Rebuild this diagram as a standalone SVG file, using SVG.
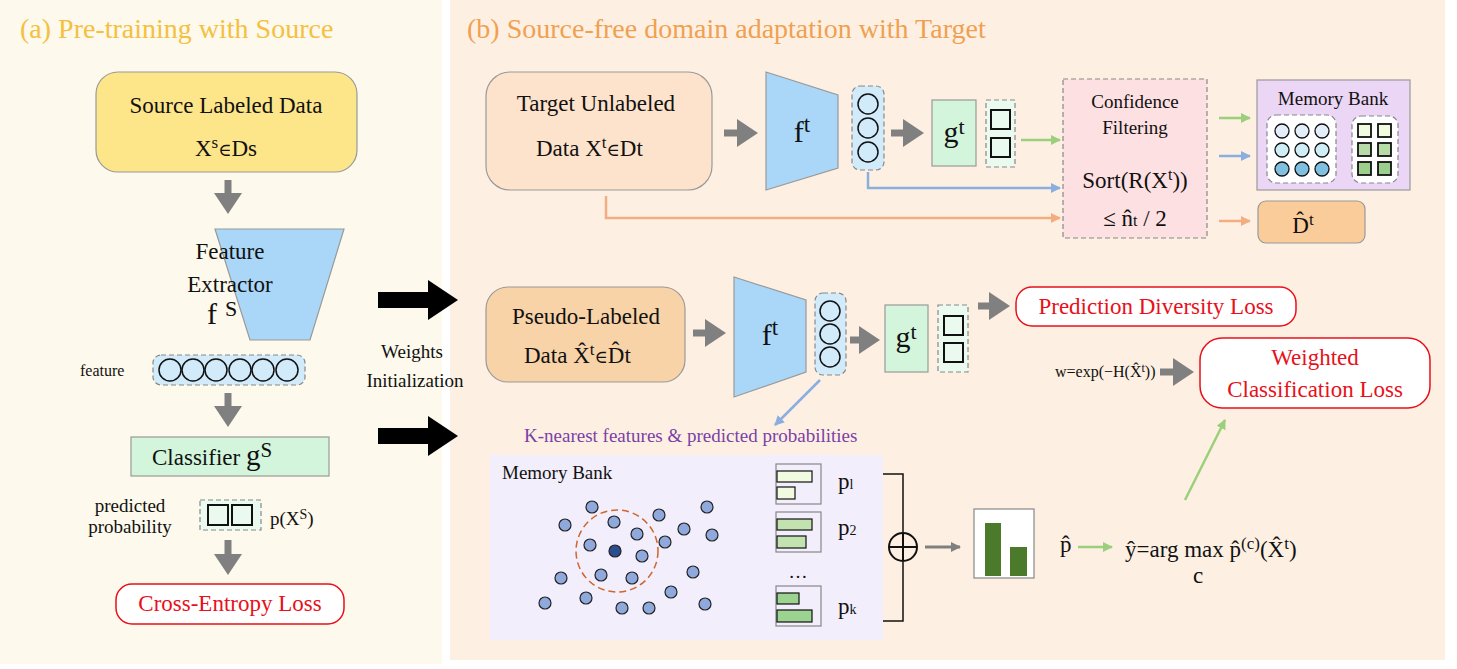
<svg xmlns="http://www.w3.org/2000/svg" width="1457" height="669" viewBox="0 0 1457 669" font-family="'Liberation Serif', 'DejaVu Serif', serif">
<style>
text{font-family:"Liberation Serif","DejaVu Serif",serif;fill:#111}
.t{font-size:23px}.s{font-size:19px}.xs{font-size:16px}
.red{fill:#e8101a}
.box{stroke:#999;stroke-width:1.2}
.dash{stroke:#888;stroke-width:1.2;stroke-dasharray:5 3}
.bead{fill:#d2ebfb;stroke:#111;stroke-width:1.5}
.sq{fill:#eafaee;stroke:#111;stroke-width:2}
.ga{stroke:#808080;stroke-width:7;fill:none}
.mb{fill:#8fa9dc;stroke:#222;stroke-width:1.2}
</style>
<defs>
<marker id="gh" markerWidth="3" markerHeight="4" refX="1" refY="2" orient="auto" markerUnits="strokeWidth"><path d="M0,0L3,2L0,4Z" fill="#808080"/></marker>
<marker id="grn" markerWidth="10" markerHeight="10" refX="9" refY="5" orient="auto" markerUnits="userSpaceOnUse"><path d="M0,0L10,5L0,10Z" fill="#9ccf7c"/></marker>
<marker id="blu" markerWidth="10" markerHeight="10" refX="9" refY="5" orient="auto" markerUnits="userSpaceOnUse"><path d="M0,0L10,5L0,10Z" fill="#8aaee0"/></marker>
<marker id="org" markerWidth="10" markerHeight="10" refX="9" refY="5" orient="auto" markerUnits="userSpaceOnUse"><path d="M0,0L10,5L0,10Z" fill="#f4ad80"/></marker>
<marker id="gry" markerWidth="10" markerHeight="10" refX="9" refY="5" orient="auto" markerUnits="userSpaceOnUse"><path d="M0,0L10,5L0,10Z" fill="#808080"/></marker>
</defs>
<rect width="1457" height="669" fill="#fff"/>
<rect x="0" y="0" width="442" height="664" fill="#fdf9ec"/>
<rect x="450" y="0" width="995" height="660" fill="#fdf0e2"/>
<text x="20" y="38" style="font-size:28px;fill:#f5c040">(a) Pre-training with Source</text>
<text x="467" y="38" style="font-size:28px;fill:#f0a050">(b) Source-free domain adaptation with Target</text>

<g id="connectors">
<line x1="228" y1="180" x2="228" y2="200" class="ga" marker-end="url(#gh)"/>
<line x1="228" y1="393" x2="228" y2="413" class="ga" marker-end="url(#gh)"/>
<line x1="228" y1="540" x2="228" y2="561" class="ga" marker-end="url(#gh)"/>
<path d="M378,292h50v-12l30,20l-30,20v-12h-50z" fill="#000"/>
<path d="M378,428h50v-12l30,20l-30,20v-12h-50z" fill="#000"/>
<line x1="724" y1="133" x2="744" y2="133" class="ga" marker-end="url(#gh)"/>
<line x1="891" y1="133" x2="910" y2="133" class="ga" marker-end="url(#gh)"/>
<line x1="1021" y1="140" x2="1060" y2="140" stroke="#9ccf7c" stroke-width="2.5" marker-end="url(#grn)"/>
<path d="M868,172V188H1060" fill="none" stroke="#8aaee0" stroke-width="2.5" marker-end="url(#blu)"/>
<path d="M606,196V218H1060" fill="none" stroke="#f4ad80" stroke-width="2.5" marker-end="url(#org)"/>
<line x1="1219" y1="118" x2="1250" y2="118" stroke="#9ccf7c" stroke-width="2.5" marker-end="url(#grn)"/>
<line x1="1219" y1="156" x2="1250" y2="156" stroke="#8aaee0" stroke-width="2.5" marker-end="url(#blu)"/>
<line x1="1219" y1="221" x2="1250" y2="221" stroke="#f4ad80" stroke-width="2.5" marker-end="url(#org)"/>
<line x1="693" y1="333" x2="712" y2="333" class="ga" marker-end="url(#gh)"/>
<line x1="850" y1="340" x2="866" y2="340" class="ga" marker-end="url(#gh)"/>
<line x1="978" y1="306" x2="996" y2="306" class="ga" marker-end="url(#gh)"/>
<line x1="1160" y1="372" x2="1180" y2="372" class="ga" marker-end="url(#gh)"/>
<line x1="820" y1="380" x2="775" y2="425" stroke="#8aaee0" stroke-width="2.5" marker-end="url(#blu)"/>
<line x1="726" y1="548" x2="760" y2="548" stroke="#808080" stroke-width="3" marker-end="url(#gry)"/>
<path d="M870,474H903V532M903,562V621H870" fill="none" stroke="#111" stroke-width="1.5"/>
<line x1="925" y1="547" x2="960" y2="547" stroke="#808080" stroke-width="3" marker-end="url(#gry)"/>
<line x1="1078" y1="547" x2="1112" y2="547" stroke="#9ccf7c" stroke-width="2.5" marker-end="url(#grn)"/>
<line x1="1185" y1="500" x2="1225" y2="420" stroke="#9ccf7c" stroke-width="2.5" marker-end="url(#grn)"/>
</g>

<g id="source-data"><rect x="96" y="72" width="261" height="100" rx="22" fill="#fde58a" class="box"/>
<text x="226" y="113" class="t" text-anchor="middle">Source Labeled Data</text>
<text x="226" y="156" class="t" text-anchor="middle">X<tspan dy="-8" font-size="17">s</tspan><tspan dy="8" font-size="18">∈</tspan>Ds</text></g>
<g id="feature-extractor"><path d="M215,229H344L310,340H250Z" fill="#aad7f7" class="box"/>
<text x="230" y="259" class="t" text-anchor="middle">Feature</text>
<text x="230" y="292" class="t" text-anchor="middle">Extractor</text>
<text x="222" y="324" style="font-size:30px" text-anchor="middle">f<tspan dx="8" dy="-8" font-size="22">S</tspan></text></g>
<g id="feature"><text x="80" y="376" class="xs">feature</text>
<rect x="153" y="355" width="152" height="30" rx="8" fill="#d2ebfb" class="dash"/>
<g class="bead"><circle cx="170" cy="370" r="11"/><circle cx="193" cy="370" r="11"/><circle cx="216" cy="370" r="11"/><circle cx="240" cy="370" r="11"/><circle cx="263" cy="370" r="11"/><circle cx="287" cy="370" r="11"/></g></g>
<g id="classifier"><rect x="131" y="437" width="198" height="39" fill="#d3f5dc" class="box"/>
<text x="152" y="465" class="t">Classifier <tspan font-size="29">g</tspan><tspan dy="-8" font-size="21">S</tspan></text></g>
<g id="pred-prob"><text x="130" y="512" class="s" text-anchor="middle">predicted</text><text x="130" y="533" class="s" text-anchor="middle">probability</text>
<rect x="200" y="500" width="61" height="30" fill="#eafaee" class="dash"/>
<rect x="208" y="505" width="20" height="20" class="sq"/><rect x="232" y="505" width="20" height="20" class="sq"/>
<text x="270" y="525" class="s">p(X<tspan dy="-6" font-size="14">S</tspan><tspan dy="6">)</tspan></text></g>
<g id="ce-loss"><rect x="116" y="584" width="228" height="40" rx="16" fill="#fff" stroke="#e8101a" stroke-width="1.5"/>
<text x="230" y="611" class="t red" text-anchor="middle">Cross-Entropy Loss</text></g>
<g id="weights-init"><text x="412" y="358" class="s" text-anchor="middle">Weights</text><text x="415" y="387" class="s" text-anchor="middle">Initialization</text></g>

<g id="target-data"><rect x="486" y="72" width="226" height="118" rx="24" fill="#fde3cc" class="box"/>
<text x="596" y="111" class="t" text-anchor="middle">Target Unlabeled</text>
<text x="536" y="156" class="t">Data  X<tspan dy="-8" font-size="17">t</tspan><tspan dy="8" font-size="18">∈</tspan>Dt</text></g>
<g id="ft1"><path d="M766,72L838,95V168L766,190Z" fill="#aad7f7" class="box"/>
<text x="802" y="142" style="font-size:30px" text-anchor="middle">f<tspan dy="-10" font-size="23">t</tspan></text></g>
<g id="feat1"><rect x="852" y="86" width="32" height="84" rx="8" fill="#d2ebfb" class="dash"/>
<g class="bead"><circle cx="868" cy="104" r="10"/><circle cx="868" cy="128" r="10"/><circle cx="868" cy="152" r="10"/></g></g>
<g id="gt1"><rect x="932" y="100" width="44" height="66" fill="#d3f5dc" class="box"/><text x="954" y="142" style="font-size:30px" text-anchor="middle">g<tspan dy="-8" font-size="22">t</tspan></text></g>
<g id="out1"><rect x="986" y="100" width="29" height="67" fill="#eafaee" class="dash"/><rect x="991" y="110" width="19" height="19" class="sq"/><rect x="991" y="138" width="19" height="19" class="sq"/></g>
<g id="confidence"><rect x="1063" y="79" width="144" height="159" fill="#fde0e2" class="dash"/>
<text x="1135" y="108" class="s" text-anchor="middle">Confidence</text><text x="1135" y="134" class="s" text-anchor="middle">Filtering</text>
<text x="1135" y="188" class="t" text-anchor="middle">Sort(R(X<tspan dy="-8" font-size="16">t</tspan><tspan dy="8">))</tspan></text>
<text x="1135" y="226" class="t" text-anchor="middle">≤ n̂<tspan font-size="16">t</tspan> / 2</text></g>
<g id="memory-bank-top"><rect x="1257" y="80" width="153" height="110" fill="#ecd6f5" class="box"/>
<text x="1333" y="105" class="s" text-anchor="middle">Memory Bank</text>
<rect x="1267" y="115" width="69" height="68" rx="9" fill="#fff" class="dash"/>
<g stroke="#111" stroke-width="1.3"><circle cx="1282" cy="131" r="7" fill="#e3eefa"/><circle cx="1302" cy="131" r="7" fill="#e3eefa"/><circle cx="1322" cy="131" r="7" fill="#e3eefa"/>
<circle cx="1282" cy="150" r="7" fill="#cfeef5"/><circle cx="1302" cy="150" r="7" fill="#cfeef5"/><circle cx="1322" cy="150" r="7" fill="#cfeef5"/>
<circle cx="1282" cy="169" r="7" fill="#7fbfdf"/><circle cx="1302" cy="169" r="7" fill="#7fbfdf"/><circle cx="1322" cy="169" r="7" fill="#7fbfdf"/></g>
<rect x="1352" y="116" width="46" height="67" rx="9" fill="#fff" class="dash"/>
<g stroke="#111" stroke-width="1.8"><rect x="1358" y="124" width="13" height="13" fill="#f0fbe0"/><rect x="1378" y="124" width="13" height="13" fill="#f0fbe0"/>
<rect x="1358" y="143" width="13" height="13" fill="#b8dca8"/><rect x="1378" y="143" width="13" height="13" fill="#b8dca8"/>
<rect x="1358" y="162" width="13" height="13" fill="#9ccf8c"/><rect x="1378" y="162" width="13" height="13" fill="#9ccf8c"/></g></g>
<g id="dt-hat"><rect x="1258" y="201" width="107" height="42" rx="8" fill="#f9cc9a" class="box"/><text x="1303" y="233" class="t" text-anchor="middle">D̂<tspan dy="-8" font-size="17">t</tspan></text></g>

<g id="pseudo-data"><rect x="486" y="287" width="199" height="95" rx="22" fill="#f9d3a8" class="box"/>
<text x="586" y="324" class="t" text-anchor="middle">Pseudo-Labeled</text>
<text x="524" y="363" class="t">Data  X̂<tspan dy="-8" font-size="17">t</tspan><tspan dy="8" font-size="18">∈</tspan>D̂t</text></g>
<g id="ft2"><path d="M734,277L806,300V372L734,397Z" fill="#aad7f7" class="box"/>
<text x="770" y="345" style="font-size:30px" text-anchor="middle">f<tspan dy="-10" font-size="23">t</tspan></text></g>
<g id="feat2"><rect x="815" y="293" width="31" height="82" rx="8" fill="#d2ebfb" class="dash"/>
<g class="bead"><circle cx="830" cy="311" r="10"/><circle cx="830" cy="334" r="10"/><circle cx="830" cy="357" r="10"/></g></g>
<g id="gt2"><rect x="885" y="305" width="43" height="67" fill="#d3f5dc" class="box"/><text x="906" y="347" style="font-size:30px" text-anchor="middle">g<tspan dy="-8" font-size="22">t</tspan></text></g>
<g id="out2"><rect x="938" y="305" width="30" height="67" fill="#eafaee" class="dash"/><rect x="944" y="316" width="19" height="19" class="sq"/><rect x="944" y="343" width="19" height="19" class="sq"/></g>
<g id="pd-loss"><rect x="1016" y="287" width="280" height="39" rx="16" fill="#fff" stroke="#e8101a" stroke-width="1.5"/><text x="1156" y="314" class="t red" text-anchor="middle">Prediction Diversity Loss</text></g>
<g id="weight"><text x="1055" y="377" class="xs">w=exp(−H(X̂<tspan dy="-5" font-size="12">t</tspan><tspan dy="5">))</tspan></text></g>
<g id="wc-loss"><rect x="1200" y="338" width="230" height="70" rx="22" fill="#fff" stroke="#e8101a" stroke-width="1.5"/>
<text x="1315" y="365" class="t red" text-anchor="middle">Weighted</text><text x="1315" y="397" class="t red" text-anchor="middle">Classification Loss</text></g>
<text x="524" y="442" class="s" style="fill:#7b3fa5">K-nearest features &amp; predicted probabilities</text>

<g id="memory-bank"><rect x="490" y="455" width="393" height="185" fill="#f3eefb"/>
<text x="502" y="479" class="s">Memory Bank</text>
<circle cx="617" cy="551" r="41" fill="none" stroke="#d0662a" stroke-width="1.5" stroke-dasharray="7 4"/>
<g class="mb"><circle cx="592" cy="507" r="6"/><circle cx="565" cy="525" r="6"/><circle cx="614" cy="522" r="6"/><circle cx="659" cy="515" r="6"/><circle cx="707" cy="507" r="6"/><circle cx="637" cy="534" r="6"/><circle cx="684" cy="529" r="6"/><circle cx="712" cy="535" r="6"/><circle cx="590" cy="545" r="6"/><circle cx="642" cy="556" r="6"/><circle cx="665" cy="542" r="6"/><circle cx="561" cy="578" r="6"/><circle cx="601" cy="575" r="6"/><circle cx="632" cy="578" r="6"/><circle cx="693" cy="572" r="6"/><circle cx="545" cy="603" r="6"/><circle cx="586" cy="598" r="6"/><circle cx="671" cy="592" r="6"/><circle cx="622" cy="608" r="6"/><circle cx="649" cy="608" r="6"/><circle cx="705" cy="604" r="6"/></g>
<circle cx="615" cy="551" r="6" fill="#2a4e8e" stroke="#222" stroke-width="1.2"/></g>
<g id="probs"><g fill="none" stroke="#888" stroke-width="1.2"><rect x="776" y="464" width="45" height="40"/><rect x="776" y="512" width="45" height="40"/><rect x="776" y="586" width="45" height="40"/></g>
<g stroke="#111" stroke-width="1.2"><rect x="777" y="471" width="35" height="11" fill="#f0fbe0"/><rect x="777" y="487" width="18" height="12" fill="#f0fbe0"/>
<rect x="777" y="519" width="35" height="11" fill="#c2e3b0"/><rect x="777" y="536" width="29" height="12" fill="#c2e3b0"/>
<rect x="777" y="593" width="22" height="11" fill="#9cd390"/><rect x="777" y="610" width="35" height="12" fill="#9cd390"/></g>
<text x="798" y="578" class="s" text-anchor="middle">…</text>
<text x="838" y="489" class="t">p<tspan font-size="14">l</tspan></text>
<text x="838" y="535" class="t">p<tspan font-size="14">2</tspan></text>
<text x="838" y="614" class="t">p<tspan font-size="14">k</tspan></text></g>
<g id="sum"><circle cx="903" cy="547" r="14" fill="none" stroke="#111" stroke-width="2"/><path d="M889,547h28M903,533v28" stroke="#111" stroke-width="2"/></g>
<g id="hist"><rect x="974" y="509" width="60" height="69" fill="#fff" stroke="#888" stroke-width="1.2"/>
<rect x="985" y="523" width="16" height="53" fill="#4a7a2a"/><rect x="1010" y="547" width="17" height="29" fill="#4a7a2a"/>
<text x="1060" y="552" class="t">p̂</text></g>
<g id="yhat"><text x="1125" y="557" class="t">ŷ=arg max p̂<tspan dy="-8" font-size="17">(c)</tspan><tspan dy="8">(X̂</tspan><tspan dy="-8" font-size="17">t</tspan><tspan dy="8">)</tspan></text>
<text x="1193" y="583" class="t">c</text></g>
</svg>
